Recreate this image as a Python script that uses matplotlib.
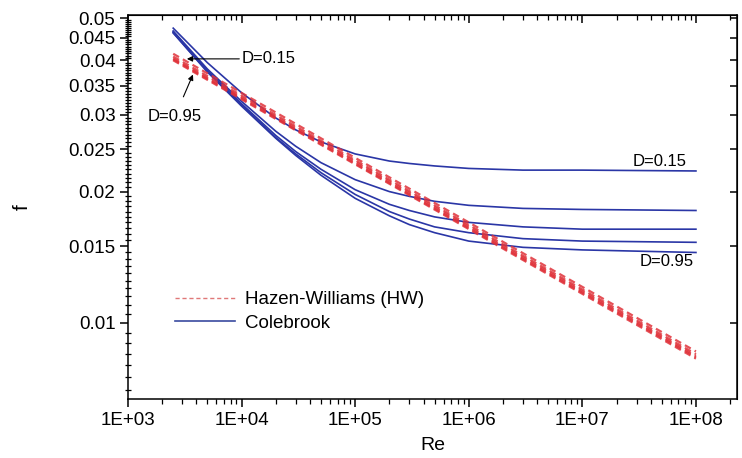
import numpy as np
import matplotlib
matplotlib.use('Agg')
import matplotlib.pyplot as plt
from matplotlib.ticker import FixedLocator, FixedFormatter, LogLocator, FuncFormatter, NullFormatter
from matplotlib.lines import Line2D

plt.rcParams['font.family'] = ['Liberation Sans', 'DejaVu Sans']

# Reynolds numbers where the curves were read
re_cb = [2.5e3, 5e3, 1e4, 2e4, 3e4, 5e4, 1e5, 2e5, 3e5, 5e5, 1e6, 3e6, 1e7, 1e8]

# Colebrook friction factor, one list per pipe diameter
diameters = ['0.15', '0.35', '0.55', '0.75', '0.95']
cb_015 = [0.0474, 0.0395, 0.0337, 0.0295, 0.0277, 0.0260, 0.0244, 0.0235, 0.0232, 0.0229, 0.0226, 0.0224, 0.0224, 0.0223]
cb_035 = [0.0467, 0.0382, 0.0322, 0.0275, 0.0254, 0.0233, 0.0213, 0.0200, 0.0195, 0.0190, 0.0186, 0.0183, 0.0182, 0.0181]
cb_055 = [0.0465, 0.0379, 0.0318, 0.0269, 0.0247, 0.0225, 0.0202, 0.0187, 0.0181, 0.0175, 0.0170, 0.0166, 0.0164, 0.0164]
cb_075 = [0.0463, 0.0377, 0.0316, 0.0266, 0.0244, 0.0221, 0.0197, 0.0180, 0.0173, 0.0166, 0.0161, 0.0156, 0.0154, 0.0153]
cb_095 = [0.0462, 0.0376, 0.0314, 0.0265, 0.0242, 0.0218, 0.0193, 0.0176, 0.0168, 0.0161, 0.0154, 0.0149, 0.0147, 0.0145]

# Hazen-Williams equivalent friction factor (straight lines on log-log)
re_hw = [2.5e3, 1e5, 1e8]
hw_015 = [0.0414, 0.0239, 0.00860]
hw_035 = [0.0408, 0.0236, 0.00848]
hw_055 = [0.0404, 0.0234, 0.00840]
hw_075 = [0.0402, 0.0232, 0.00834]
hw_095 = [0.0400, 0.0231, 0.00828]

y_major = [0.01, 0.015, 0.02, 0.025, 0.03, 0.035, 0.04, 0.045, 0.05]
y_labels = ['0.01', '0.015', '0.02', '0.025', '0.03', '0.035', '0.04', '0.045', '0.05']

blue = '#2a36a6'
red = '#e0323a'

fig = plt.figure(figsize=(7.42, 4.58), dpi=100)
ax = fig.add_axes([0.1725, 0.1288, 0.8208, 0.8384])

for cb in [cb_015, cb_035, cb_055, cb_075, cb_095]:
    ax.plot(re_cb, cb, color=blue, lw=1.2)
for hw in [hw_015, hw_035, hw_055, hw_075, hw_095]:
    ax.plot(re_hw, hw, color=red, lw=1.6, ls=(0, (3, 2)), alpha=0.85)

ax.set_xscale('log')
ax.set_yscale('log')
ax.set_xlim(1e3, 2.3e8)
ax.set_ylim(0.00669, 0.0508)

ax.xaxis.set_major_locator(LogLocator(base=10, numticks=20))
ax.xaxis.set_minor_locator(LogLocator(base=10, subs=np.arange(2, 10), numticks=20))
ax.xaxis.set_major_formatter(FuncFormatter(lambda v, p: '1E+%02d' % int(round(np.log10(v)))))
ax.xaxis.set_minor_formatter(NullFormatter())

ax.yaxis.set_major_locator(FixedLocator(y_major))
ax.yaxis.set_major_formatter(FixedFormatter(y_labels))
ax.yaxis.set_minor_locator(FixedLocator(np.arange(0.0065, 0.0505, 0.0005)))
ax.yaxis.set_minor_formatter(NullFormatter())

ax.tick_params(which='major', direction='out', length=6, width=1.1, labelsize=13.5, pad=3)
ax.tick_params(which='minor', direction='out', length=3.5, width=0.9)
ax.tick_params(axis='y', which='minor', direction='inout', length=5)
for s in ax.spines.values():
    s.set_linewidth(1.1)

top = ax.secondary_xaxis('top')
top.xaxis.set_major_locator(LogLocator(base=10, numticks=20))
top.xaxis.set_minor_locator(LogLocator(base=10, subs=np.arange(2, 10), numticks=20))
top.tick_params(which='both', direction='in', labeltop=False)
top.tick_params(which='major', length=6, width=1.1)
top.tick_params(which='minor', length=3.5, width=0.9)
top.xaxis.set_minor_formatter(NullFormatter())

right = ax.secondary_yaxis('right')
right.yaxis.set_major_locator(FixedLocator(y_major))
right.yaxis.set_minor_locator(FixedLocator([]))
right.tick_params(which='major', direction='in', length=5, width=1.1, labelright=False)

ax.set_xlabel('Re', fontsize=14, labelpad=6)
ax.set_ylabel('f', fontsize=15, labelpad=26)

# annotations
ax.annotate('D=0.15', xy=(3300, 0.0403), xytext=(10100, 0.0403), fontsize=12, va='center', ha='left',
            arrowprops=dict(arrowstyle='-|>', color='black', lw=0.8, mutation_scale=8, shrinkA=0, shrinkB=0))
ax.annotate('D=0.95', xy=(3730, 0.0371), xytext=(2600, 0.0298), fontsize=12, va='center', ha='center',
            arrowprops=dict(arrowstyle='-|>', color='black', lw=0.8, mutation_scale=8, shrinkA=7, shrinkB=0))
ax.text(8.3e7, 0.0235, 'D=0.15', fontsize=12, ha='right', va='center')
ax.text(9.6e7, 0.0138, 'D=0.95', fontsize=12, ha='right', va='center')

handles = [Line2D([], [], color='#e07878', lw=1.0, ls=(0, (3, 2))),
           Line2D([], [], color='#3a4aa0', lw=1.2)]
ax.legend(handles, ['Hazen-Williams (HW)', 'Colebrook'], loc='upper left', bbox_to_anchor=(0.05, 0.325),
          frameon=False, fontsize=13.5, handlelength=3.2, handletextpad=0.5, labelspacing=0.35)

fig.savefig('out.png', dpi=100)
